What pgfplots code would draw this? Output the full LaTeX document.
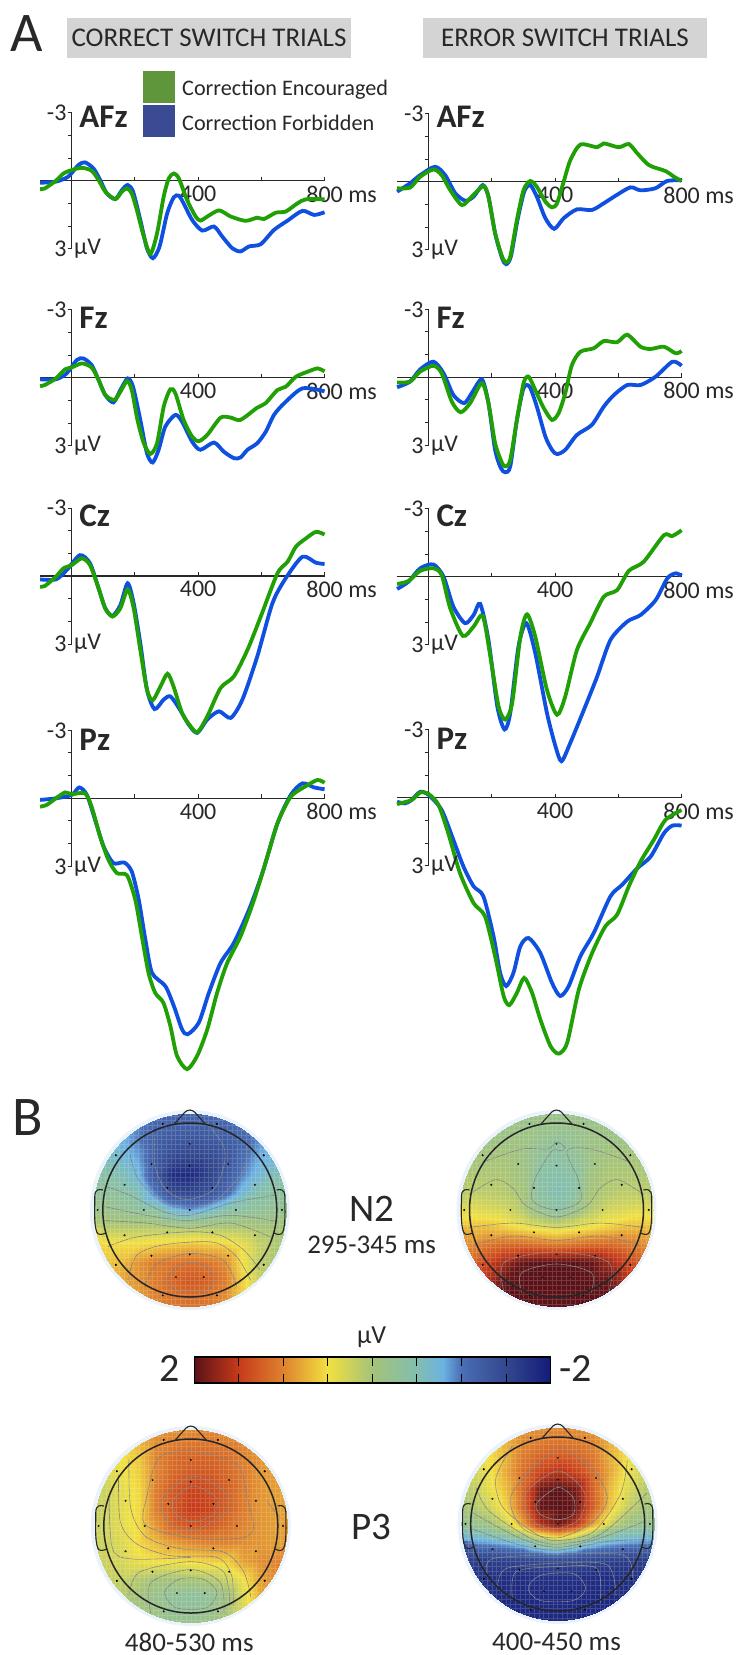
\documentclass[border=0pt]{standalone}
\usepackage{fontspec}
\setmainfont{Carlito}
\usepackage{pgfplots}
\usepackage{pgfplotstable}
\pgfplotsset{compat=1.18}
\definecolor{wblue}{RGB}{15,80,225}
\definecolor{wgreen}{RGB}{32,160,5}
\definecolor{ink}{RGB}{40,40,40}
\definecolor{halo}{RGB}{234,243,252}
\newcommand\fs[1]{\fontsize{#1}{#1}\selectfont}
\pgfplotsset{colormap={eeg}{
rgb255(0cm)=(20,28,120) rgb255(12.5cm)=(51,72,143) rgb255(25cm)=(74,110,180) rgb255(30cm)=(108,178,226)
rgb255(37.5cm)=(130,190,175) rgb255(50cm)=(165,195,120) rgb255(62.5cm)=(242,224,64) rgb255(75cm)=(222,130,46)
rgb255(87.5cm)=(198,58,26) rgb255(100cm)=(90,18,24)}}
% ---- waveforms: ms, microvolt (negative up)
\pgfplotstableread{
ms uv
-100 .09
-50 .04
-11 -.18
21 -.69
42 -.81
69 -.54
90 -.03
111 .56
138 .81
159 .41
177 .19
194 .48
217 1.73
238 2.98
257 3.42
278 2.90
302 1.44
323 .73
339 .66
354 1.00
381 1.73
413 2.20
450 2.02
476 2.46
508 2.98
534 3.12
561 2.90
598 2.80
640 2.17
683 1.76
730 1.33
767 1.51
800 1.39
}\AFzLb
\pgfplotstableread{
ms uv
-100 .37
-85 .34
-50 0
-26 -.32
0 -.47
32 -.57
63 -.44
85 -.03
106 .48
138 .81
159 .48
175 .34
190 .56
206 1.29
228 2.46
249 3.23
270 2.32
291 .70
307 -.10
323 -.32
339 -.10
365 .85
392 1.58
407 1.76
429 1.58
466 1.31
503 1.58
550 1.77
587 1.63
608 1.69
646 1.41
677 1.36
714 1.00
741 .82
800 .82
}\AFzLg
\pgfplotstableread{
ms uv
-100 .44
-59 .07
-27 -.29
20 -.66
52 -.29
84 .51
116 .84
142 .66
171 .15
189 .66
210 2.27
232 3.37
245 3.64
260 3.30
281 1.69
302 .44
321 .15
342 .66
369 1.61
397 2.08
427 1.61
469 1.22
516 1.25
554 .95
591 .62
638 .25
670 .38
717 .29
754 -.03
800 -.07
}\AFzRb
\pgfplotstableread{
ms uv
-100 .29
-59 .26
-27 -.22
15 -.54
41 -.29
68 .37
105 1.03
136 .66
173 .19
189 .66
210 2.27
232 3.30
245 3.56
258 3.30
279 1.69
300 .37
321 -.03
342 .22
369 .88
390 1.13
406 .95
427 0
448 -.95
480 -1.64
533 -1.52
554 -1.69
601 -1.52
633 -1.66
660 -1.25
697 -.73
749 -.47
776 -.22
800 -.03
}\AFzRg
\pgfplotstableread{
ms uv
-100 .07
-50 .07
-16 -.19
16 -.78
37 -.85
63 -.56
85 .10
106 .76
132 1.09
154 .54
177 .03
194 .40
217 1.86
238 3.33
256 3.74
275 3.18
296 2.16
328 1.64
349 1.94
381 2.82
407 3.18
450 2.86
481 3.26
513 3.55
534 3.52
556 3.18
587 2.89
614 2.38
640 1.64
672 1.13
730 .47
800 .60
}\FzLb
\pgfplotstableread{
ms uv
-100 .37
-85 .32
-50 .03
-21 -.37
0 -.45
32 -.63
63 -.45
85 .10
106 .76
135 .98
154 .62
175 .15
190 .54
208 1.86
228 2.89
249 3.36
270 2.89
291 1.28
312 .51
328 .69
354 1.86
381 2.60
402 2.80
429 2.52
471 1.76
503 1.76
534 1.86
587 1.32
613 1.13
651 .54
677 .40
709 -.04
751 -.29
778 -.41
800 -.28
}\FzLg
\pgfplotstableread{
ms uv
-100 .44
-59 .19
-27 -.35
15 -.69
47 -.18
78 .78
112 1.14
136 .70
168 .09
189 1.14
210 3.20
228 4.00
242 4.19
258 3.93
279 1.88
300 .48
319 .41
342 1.29
369 2.61
390 3.20
406 3.39
432 3.20
469 2.54
516 2.10
554 1.29
586 .78
628 .34
670 .34
718 -.03
771 -.69
800 -.51
}\FzRb
\pgfplotstableread{
ms uv
-100 .23
-59 .19
-27 -.25
15 -.51
41 -.18
73 1.07
101 1.54
131 1.14
168 .26
189 1.14
210 2.90
232 3.78
244 3.93
258 3.64
279 1.88
300 .26
316 -.03
337 .56
364 1.36
390 1.88
411 1.58
432 .70
453 -.54
480 -1.13
522 -1.28
554 -1.60
596 -1.55
628 -1.88
670 -1.35
702 -1.25
744 -1.35
781 -1.06
800 -1.16
}\FzRg
\pgfplotstableread{
ms uv
-100 .15
-50 .15
-16 -.26
26 -.92
58 -.56
85 .54
106 1.42
129 1.76
154 1.28
177 .32
196 1.20
217 2.96
238 5.01
262 5.87
291 5.45
312 5.31
339 5.82
370 6.55
397 6.92
429 6.33
466 5.97
503 6.26
540 5.45
587 3.55
635 1.20
677 .10
730 -.85
772 -.59
800 -.53
}\CzLb
\pgfplotstableread{
ms uv
-100 .47
-85 .44
-50 .03
-26 -.34
0 -.48
32 -.78
58 -.48
85 .54
106 1.42
129 1.79
154 1.42
177 .59
196 1.42
217 3.26
238 5.01
256 5.48
281 4.87
303 4.31
322 4.87
349 6.04
376 6.63
398 6.89
429 6.19
471 4.94
513 4.43
556 3.26
598 1.79
651 -.12
683 -.63
709 -1.29
741 -1.66
773 -1.95
800 -1.83
}\CzLg
\pgfplotstableread{
ms uv
-100 .54
-64 .22
-27 -.37
15 -.54
47 0
78 1.32
115 2.05
142 1.69
163 1.20
189 2.79
217 5.72
240 6.74
258 6.01
284 3.08
309 2.05
337 3.37
374 6.01
401 7.48
420 8.14
448 7.33
491 5.87
533 4.40
575 2.79
628 1.98
670 1.69
718 1.03
755 .07
781 -.15
800 -.04
}\CzRb
\pgfplotstableread{
ms uv
-100 .32
-64 .19
-27 -.26
15 -.37
41 -.07
68 1.39
108 2.61
142 2.20
171 1.73
195 3.52
221 5.72
242 6.30
264 5.57
290 2.64
311 1.66
337 2.64
374 4.99
406 6.09
432 5.28
469 3.23
511 2.05
554 .88
596 .59
633 -.26
680 -.66
744 -1.83
770 -1.79
800 -2.05
}\CzRg
\pgfplotstableread{
ms uv
-100 .07
-50 0
0 -.15
24 -.48
48 -.15
74 .95
101 2.13
132 2.86
166 2.83
190 3.23
212 4.47
233 6.23
254 7.70
296 8.28
323 9.16
349 10.19
367 10.41
402 9.90
434 8.58
471 7.26
513 6.38
561 4.91
603 3.30
651 1.10
693 -.15
730 -.66
767 -.48
800 -.40
}\PzLb
\pgfplotstableread{
ms uv
-100 .37
-79 .29
-50 0
-21 -.26
0 -.18
42 -.22
63 .37
90 1.69
116 2.71
143 3.30
175 3.40
201 4.47
222 6.09
243 7.70
264 8.58
290 9.02
312 10.04
333 11.36
365 11.95
397 11.36
429 10.19
460 8.58
492 7.26
534 6.09
577 4.47
619 2.57
651 1.10
693 -.07
747 -.59
778 -.81
800 -.69
}\PzLg
\pgfplotstableread{
ms uv
-100 .18
-75 .25
-54 .10
-27 -.26
0 -.12
41 .54
78 1.86
110 3.04
142 3.91
173 4.35
205 6.11
226 7.73
245 8.31
268 7.73
290 6.55
316 6.19
353 6.85
390 8.17
416 8.75
443 8.31
480 6.99
522 5.97
575 4.35
612 3.84
660 3.11
702 2.60
744 1.57
771 1.23
800 1.23
}\PzRb
\pgfplotstableread{
ms uv
-100 .28
-54 .10
-27 -.23
0 -.16
31 .32
62 1.57
99 3.33
142 4.65
178 5.23
210 6.99
237 8.75
255 9.15
279 8.61
302 7.95
327 8.61
353 9.78
385 10.95
411 11.29
438 10.81
475 8.46
517 6.85
559 5.67
596 5.16
633 3.91
670 2.82
712 1.86
749 .98
800 .54
}\PzRg
% ---- scalp maps: 13 x 13 grid, rows from y=1.2 down to y=-1.2, columns x=-1.2 ... 1.2
\newcommand\mkgrid[1]{%
\pgfplotstablecreatecol[expr={-1.2+0.2*mod(\pgfplotstablerow,13)}]{xx}#1%
\pgfplotstablecreatecol[expr={1.2-0.2*floor(\pgfplotstablerow/13)}]{yy}#1}
\pgfplotstableread[row sep=\\]{z\\
-.9\\-.9\\-.9\\-.95\\-1\\-1.1\\-1.1\\-1.1\\-1\\-.95\\-.9\\-.9\\-.9\\
-.85\\-.85\\-.85\\-.95\\-1.1\\-1.15\\-1.15\\-1.15\\-1.1\\-1\\-.9\\-.85\\-.85\\
-.7\\-.7\\-.75\\-.95\\-1.2\\-1.3\\-1.35\\-1.3\\-1.25\\-1.1\\-.9\\-.8\\-.8\\
-.55\\-.55\\-.7\\-.85\\-1.25\\-1.5\\-1.55\\-1.5\\-1.35\\-1.05\\-.8\\-.7\\-.7\\
-.4\\-.4\\-.5\\-.75\\-1.3\\-1.8\\-1.85\\-1.6\\-1.3\\-.95\\-.7\\-.5\\-.45\\
-.3\\-.3\\-.35\\-.5\\-.95\\-1.45\\-1.5\\-1.4\\-1.1\\-.7\\-.45\\-.35\\-.3\\
-.1\\-.15\\-.2\\-.3\\-.35\\-.7\\-.85\\-.7\\-.45\\-.35\\-.3\\-.25\\-.2\\
.15\\.1\\.1\\.1\\.1\\.05\\.05\\.05\\.05\\.05\\0\\0\\0\\
.6\\.55\\.55\\.55\\.6\\.65\\.7\\.65\\.6\\.45\\.2\\.05\\0\\
.7\\.65\\.7\\.9\\1.05\\1.1\\1.15\\1.1\\.95\\.5\\.15\\0\\0\\
.75\\.75\\.8\\.9\\1.05\\1.2\\1.3\\1.25\\1.05\\.6\\.2\\.1\\.05\\
.75\\.75\\.8\\.85\\1.0\\1.1\\1.15\\1.1\\.95\\.6\\.3\\.2\\.1\\
.8\\.8\\.8\\.85\\1\\1.05\\1.1\\1.05\\.95\\.7\\.4\\.2\\.1\\
}\mapA
\pgfplotstableread[row sep=\\]{z\\
-.15\\-.15\\-.15\\-.15\\-.15\\-.15\\-.15\\-.15\\-.15\\-.15\\-.15\\-.15\\-.15\\
-.15\\-.15\\-.15\\-.15\\-.15\\-.15\\-.15\\-.15\\-.15\\-.15\\-.15\\-.15\\-.15\\
-.1\\-.1\\-.1\\-.1\\-.1\\-.2\\-.3\\-.2\\-.1\\-.1\\-.1\\-.1\\-.1\\
-.05\\0\\0\\0\\-.1\\-.3\\-.4\\-.3\\-.1\\0\\0\\0\\-.05\\
.05\\.05\\.05\\.05\\-.05\\-.4\\-.45\\-.4\\-.05\\.05\\.05\\.05\\.05\\
.1\\.15\\.15\\.1\\0\\-.4\\-.5\\-.4\\0\\.1\\.15\\.15\\.1\\
.35\\.4\\.35\\.3\\.1\\-.2\\-.4\\-.2\\.1\\.3\\.35\\.4\\.35\\
.6\\.7\\.7\\.6\\.5\\.4\\.3\\.4\\.5\\.6\\.7\\.7\\.6\\
.85\\.95\\1.1\\1.2\\1.2\\1.15\\1.1\\1.15\\1.2\\1.2\\1.1\\.95\\.85\\
1.1\\1.2\\1.45\\1.7\\1.95\\2\\2\\2\\1.95\\1.7\\1.45\\1.2\\1.1\\
1.2\\1.35\\1.6\\1.95\\2\\2\\2\\2\\2\\1.95\\1.6\\1.35\\1.2\\
1.5\\1.6\\1.8\\2\\2\\2\\2\\2\\2\\2\\1.8\\1.6\\1.5\\
1.8\\1.8\\1.9\\2\\2\\2\\2\\2\\2\\2\\1.9\\1.8\\1.8\\
}\mapB
\pgfplotstableread[row sep=\\]{z\\
.6\\.6\\.7\\.8\\.8\\.85\\.85\\.9\\.9\\.85\\.8\\.7\\.7\\
.4\\.45\\.5\\.75\\.95\\1.0\\1.05\\1.05\\1.0\\.95\\.85\\.8\\.75\\
.3\\.35\\.5\\.65\\1.0\\1.15\\1.2\\1.2\\1.15\\1.0\\.9\\.85\\.8\\
.25\\.3\\.45\\.6\\1.0\\1.2\\1.3\\1.3\\1.2\\1.05\\.9\\.85\\.8\\
.2\\.25\\.4\\.55\\1.05\\1.3\\1.45\\1.4\\1.25\\1.05\\.9\\.85\\.8\\
.2\\.25\\.4\\.55\\1.05\\1.3\\1.5\\1.45\\1.25\\1.05\\.9\\.85\\.8\\
.2\\.25\\.4\\.55\\.9\\1.2\\1.3\\1.3\\1.15\\1.0\\.9\\.85\\.85\\
.2\\.25\\.35\\.55\\.7\\.85\\.95\\1.0\\1.0\\.95\\.9\\.85\\.85\\
.25\\.25\\.3\\.45\\.5\\.5\\.55\\.6\\.6\\.85\\.95\\1.0\\1.0\\
.2\\.2\\.2\\.1\\0\\0\\.05\\.1\\.25\\.5\\.85\\1.0\\1.0\\
.15\\.15\\.1\\-.05\\-.2\\-.3\\-.35\\-.3\\-.1\\.35\\.8\\.95\\.95\\
.1\\.1\\.1\\0\\-.1\\-.25\\-.25\\-.2\\0\\.35\\.7\\.8\\.8\\
.1\\.1\\.1\\0\\-.05\\-.1\\-.1\\-.1\\.05\\.3\\.6\\.7\\.7\\
}\mapC
\pgfplotstableread[row sep=\\]{z\\
.6\\.6\\.7\\.8\\.85\\.9\\.9\\.9\\.85\\.8\\.7\\.6\\.6\\
.5\\.5\\.6\\.75\\.95\\1\\1.05\\1\\.95\\.75\\.6\\.5\\.5\\
.3\\.35\\.5\\.75\\1.05\\1.2\\1.25\\1.2\\1.05\\.75\\.5\\.35\\.3\\
.2\\.25\\.45\\.8\\1.15\\1.45\\1.6\\1.45\\1.15\\.8\\.45\\.25\\.2\\
.1\\.15\\.4\\.7\\1.2\\1.9\\2\\1.9\\1.2\\.7\\.35\\.1\\.05\\
0\\.05\\.25\\.6\\1.2\\1.95\\2\\1.95\\1.25\\.65\\.2\\0\\0\\
-.2\\-.2\\-.1\\.25\\.85\\1.6\\1.9\\1.6\\.85\\.25\\-.1\\-.2\\-.2\\
-.85\\-.85\\-.8\\-.7\\-.55\\-.15\\.1\\-.15\\-.55\\-.7\\-.8\\-.85\\-.85\\
-1.6\\-1.6\\-1.6\\-1.55\\-1.5\\-1.45\\-1.4\\-1.45\\-1.5\\-1.55\\-1.6\\-1.6\\-1.6\\
-1.7\\-1.75\\-1.75\\-1.8\\-1.8\\-1.75\\-1.75\\-1.75\\-1.8\\-1.8\\-1.75\\-1.75\\-1.7\\
-1.75\\-1.8\\-1.8\\-1.85\\-1.85\\-1.85\\-1.85\\-1.85\\-1.85\\-1.85\\-1.8\\-1.8\\-1.75\\
-1.8\\-1.85\\-1.85\\-1.85\\-1.85\\-1.85\\-1.85\\-1.85\\-1.85\\-1.85\\-1.85\\-1.85\\-1.8\\
-1.85\\-1.85\\-1.85\\-1.85\\-1.85\\-1.85\\-1.85\\-1.85\\-1.85\\-1.85\\-1.85\\-1.85\\-1.85\\
}\mapD
\mkgrid\mapA
\mkgrid\mapB
\mkgrid\mapC
\mkgrid\mapD
\pgfplotsset{ctr/.style={draw=black!50,line width=.55pt,smooth,no markers}}
% #1 axis x, #2 zero y, #3 name, #4 name offset below the -3 tick (px), #5 blue, #6 green
\newcommand\wave[6]{%
\begin{axis}[at={(#1pt-31.6pt,-#2pt-68pt)},anchor=south west,scale only axis,
  width=284.5pt,height=136pt,xmin=-100,xmax=800,ymin=-3,ymax=3,y dir=reverse,
  axis lines=middle,axis line style={-,draw=ink,line width=1.1pt},clip=false,
  xtick={200,400,600,800},xticklabels={,400,,800\rlap{ ms}},
  ytick={-3,-2,-1,1,2,3},yticklabels={-3,,,,,3},
  tick style={draw=ink,line width=1pt},major tick length=4pt,tick align=outside,
  tick label style={font=\fs{24},text=ink,inner sep=0pt},
  x tick label style={yshift=-1pt},y tick label style={xshift=-1pt}]
\addplot[wblue,line width=3.8pt,smooth,tension=.45,no markers] table[x=ms,y=uv]{#5};
\addplot[wgreen,line width=3.8pt,smooth,tension=.45,no markers] table[x=ms,y=uv]{#6};
\node[anchor=west,inner sep=0pt,text=ink,font=\fs{33}\bfseries] at (axis cs:24,{-3+#4/22.67}) {#3};
\node[anchor=west,inner sep=0pt,text=ink,font=\fs{24}] at (axis cs:7,3) {µV};
\end{axis}}
% #1 cx, #2 cy, #3 table, #4 contours
\newcommand\scalp[4]{%
\fill[halo] (#1pt,-#2pt) circle (100pt);
\begin{scope}
\clip (#1pt,-#2pt) circle (96.5pt);
\begin{axis}[at={(#1pt-104.4pt,-#2pt-104.4pt)},anchor=south west,scale only axis,
  width=208.8pt,height=208.8pt,xmin=-1.2,xmax=1.2,ymin=-1.2,ymax=1.2,hide axis,
  colormap name=eeg,point meta min=-2,point meta max=2,clip=false]
\addplot[surf,shader=interp,mesh/cols=13,point meta=explicit] table[x=xx,y=yy,meta=z]{#3};
#4
\addplot[only marks,mark=*,mark size=.8pt,black] coordinates {
(-.312,.99)(.312,.99)(0,.76)(-.85,.63)(.85,.63)(-.44,.53)(.44,.53)(0,.51)(-.75,.29)(.75,.29)
(-.26,.255)(.26,.255)(0,0)(-.53,0)(.53,0)(-1.06,0)(1.06,0)(-.75,-.29)(.75,-.29)(-.26,-.257)(.26,-.257)
(-.44,-.525)(.44,-.525)(0,-.51)(-.85,-.63)(.85,-.63)(-.16,-.77)(.16,-.77)(-.312,-.98)(.312,-.98)};
\end{axis}
\draw[white,opacity=.16,line width=.5pt,shift={(#1pt,-#2pt)},step=4.7pt] (-98pt,-98pt) grid (98pt,98pt);
\end{scope}
\begin{scope}[shift={(#1pt,-#2pt)},draw=black!85!white]
\draw[line width=1.5pt] (0,0) circle (87pt);
\draw[line width=1.1pt,rounded corners=3pt] (-15.5pt,86pt) -- (-3pt,100pt) -- (3pt,100pt) -- (15.5pt,86pt);
\draw[line width=1.1pt] (-87pt,20pt) .. controls (-90pt,21pt) and (-95pt,21pt) .. (-95pt,14pt) .. controls (-95pt,0pt) and (-96pt,-14pt) .. (-93pt,-22pt) .. controls (-92pt,-25pt) and (-88pt,-25pt) .. (-84pt,-23pt);
\draw[line width=1.1pt] (87pt,20pt) .. controls (90pt,21pt) and (95pt,21pt) .. (95pt,14pt) .. controls (95pt,0pt) and (96pt,-14pt) .. (93pt,-22pt) .. controls (92pt,-25pt) and (88pt,-25pt) .. (84pt,-23pt);
\end{scope}}
\begin{document}
\begin{tikzpicture}
\useasboundingbox (0pt,0pt) rectangle (739pt,-1655pt);
\tikzset{lab/.style={inner sep=0pt,text=ink}}
\node[lab,font=\fs{56}] at (27pt,-34pt) {A};
\node[lab,font=\fs{56}] at (28pt,-1118pt) {B};
\fill[black!17] (67pt,-18pt) rectangle (351pt,-58pt);
\fill[black!17] (423pt,-18pt) rectangle (707pt,-58pt);
\node[lab,font=\fs{27}] at (209pt,-38pt) {CORRECT SWITCH TRIALS};
\node[lab,font=\fs{27}] at (565pt,-38pt) {ERROR SWITCH TRIALS};
\fill[fill={rgb,255:red,95;green,150;blue,60}] (143pt,-71pt) rectangle (175pt,-103pt);
\fill[fill={rgb,255:red,58;green,75;blue,148}] (143pt,-105pt) rectangle (175pt,-137pt);
\node[lab,anchor=west,font=\fs{22.2}] at (182pt,-90pt) {Correction Encouraged};
\node[lab,anchor=west,font=\fs{22.2}] at (182pt,-123pt) {Correction Forbidden};
\wave{71.7}{180.7}{AFz}{4}{\AFzLb}{\AFzLg}
\wave{428.7}{181.7}{AFz}{3}{\AFzRb}{\AFzRg}
\wave{71.7}{377.7}{Fz}{8}{\FzLb}{\FzLg}
\wave{428.7}{377.3}{Fz}{8}{\FzRb}{\FzRg}
\wave{71.7}{576}{Cz}{8}{\CzLb}{\CzLg}
\wave{428.7}{576.7}{Cz}{7}{\CzRb}{\CzRg}
\wave{71.7}{798.3}{Pz}{9}{\PzLb}{\PzLg}
\wave{428.7}{797.7}{Pz}{9}{\PzRb}{\PzRg}
\scalp{189.8}{1210}{\mapA}{
\addplot[ctr] coordinates {(-.4,.88)(-.4,.5)(-.27,.23)(-.03,.12)(.27,.23)(.39,.5)(.39,.73)(.2,1)};
\addplot[ctr] coordinates {(-.69,.65)(-.59,.35)(-.3,.08)(0,.02)(.31,.12)(.62,.46)(.66,.77)};
\addplot[ctr] coordinates {(-.96,.27)(-.69,.17)(-.3,-.02)(0,-.06)(.47,.08)(.85,.15)(1,.17)};
\addplot[ctr] coordinates {(-.98,.04)(-.5,-.06)(-.03,-.12)(.47,-.06)(1,-.13)};
\addplot[ctr] coordinates {(-1,-.12)(-.5,-.15)(0,-.21)(.47,-.15)(.93,-.31)};
\addplot[ctr] coordinates {(-.94,-.42)(-.61,-.31)(0,-.25)(.35,-.29)(.62,-.46)(.81,-.69)};
\addplot[ctr] coordinates {(-.71,-.81)(-.61,-.52)(-.3,-.4)(.27,-.37)(.54,-.54)(.7,-.81)};
\addplot[ctr] coordinates {(-.52,-.88)(-.38,-.62)(0,-.5)(.39,-.58)(.54,-.88)};
\addplot[ctr,smooth cycle] coordinates {(-.27,-.81)(-.11,-.63)(.16,-.63)(.27,-.77)(.2,-.92)(-.15,-.92)};
}
\scalp{556.5}{1210}{\mapB}{
\addplot[ctr] coordinates {(-.85,.55)(-.4,.7)(-.1,.7)(0,.78)(.1,.72)(.05,.68)(-.05,.68)(-.25,.35)(-.27,.1)(0,0)(.27,.1)(.25,.35)(.12,.68)(.4,.7)(.85,.55)};
\addplot[ctr] coordinates {(-1,.18)(-.7,.35)(-.5,.25)(-.35,.05)(0,-.08)(.35,.05)(.5,.25)(.7,.35)(1,.18)};
\addplot[ctr] coordinates {(-1,-.2)(-.5,-.15)(0,-.2)(.5,-.15)(1,-.2)};
\addplot[ctr] coordinates {(-.95,-.4)(-.5,-.3)(0,-.35)(.5,-.3)(.95,-.4)};
\addplot[ctr] coordinates {(-.6,-.95)(-.6,-.6)(0,-.48)(.6,-.6)(.6,-.95)};
\addplot[ctr] coordinates {(-.4,-.95)(-.4,-.72)(0,-.62)(.4,-.72)(.4,-.95)};
}
\scalp{190.8}{1526}{\mapC}{
\addplot[ctr,smooth cycle] coordinates {(-.2,.3)(.03,.46)(.3,.32)(.26,.13)(.03,.05)(-.17,.13)};
\addplot[ctr,smooth cycle] coordinates {(-.32,.32)(.03,.57)(.38,.4)(.41,.17)(.03,-.05)(-.26,.05)};
\addplot[ctr,smooth cycle] coordinates {(-.5,.36)(-.36,.79)(.03,.86)(.53,.71)(.65,.32)(.72,-.03)(.57,-.14)(.03,-.14)(-.52,.01)};
\addplot[ctr] coordinates {(-.71,.77)(-.69,.2)(-.52,-.12)(-.13,-.26)(.38,-.3)(.61,-.53)(.69,-.82)};
\addplot[ctr] coordinates {(-.83,.59)(-.81,.05)(-.63,-.2)(-.24,-.34)(.3,-.36)(.47,-.57)(.49,-.92)};
\addplot[ctr] coordinates {(-.94,.36)(-.9,-.26)(-.67,-.38)(0,-.36)};
\addplot[ctr,smooth cycle] coordinates {(-.3,-.76)(-.13,-.61)(.14,-.61)(.3,-.76)(.18,-.94)(-.17,-.94)};
\addplot[ctr] coordinates {(-.46,-1)(-.46,-.65)(0,-.5)(.34,-.65)(.38,-1)};
\addplot[ctr] coordinates {(-.71,-.8)(-.59,-.53)(0,-.41)(.38,-.53)(.45,-.92)};
\addplot[ctr] coordinates {(.88,.28)(1.03,.09)};
}
\scalp{557.7}{1524}{\mapD}{
\addplot[ctr,smooth cycle] coordinates {(-.24,.24)(0,.42)(.18,.3)(.18,.11)(0,.05)(-.2,.11)};
\addplot[ctr,smooth cycle] coordinates {(-.38,.34)(0,.61)(.3,.38)(.26,.07)(0,-.05)(-.28,.03)};
\addplot[ctr,smooth cycle] coordinates {(-.53,.34)(0,.86)(.41,.61)(.57,.3)(.41,.03)(0,-.16)(-.4,-.05)};
\addplot[ctr] coordinates {(-.52,.9)(-.71,.53)(-.63,.19)(-.24,-.12)(0,-.19)(.41,-.09)(.72,.34)(.8,.73)};
\addplot[ctr] coordinates {(-.94,.42)(-.79,.15)(-.32,-.16)(0,-.23)(.49,-.12)(1.03,.36)};
\addplot[ctr] coordinates {(-.98,.13)(-.44,-.16)(0,-.27)(.49,-.16)(1,.03)};
\addplot[ctr] coordinates {(-1,-.05)(-.44,-.24)(0,-.3)(.57,-.2)(1.02,-.18)};
\addplot[ctr] coordinates {(-.81,-.59)(-.75,-.4)(0,-.35)(.76,-.36)(.86,-.63)};
\addplot[ctr] coordinates {(-.69,-.71)(-.59,-.51)(0,-.45)(.57,-.47)(.67,-.82)};
\addplot[ctr] coordinates {(-.52,-.86)(-.48,-.55)(0,-.49)(.45,-.51)(.49,-.9)};
\addplot[ctr,smooth cycle] coordinates {(-.34,-.74)(-.2,-.59)(.18,-.57)(.32,-.74)(.18,-.88)(-.2,-.88)};
}
\node[lab,font=\fs{39}] at (371.6pt,-1209pt) {N2};
\node[lab,font=\fs{27}] at (371.6pt,-1245pt) {295-345 ms};
\node[lab,font=\fs{26}] at (371.6pt,-1337pt) {µV};
\node[lab,font=\fs{40}] at (170pt,-1369pt) {2};
\node[lab,font=\fs{40}] at (576pt,-1369pt) {-2};
\node[lab,font=\fs{39}] at (371.6pt,-1527pt) {P3};
\node[lab,font=\fs{27}] at (189.3pt,-1642pt) {480-530 ms};
\node[lab,font=\fs{27}] at (556.5pt,-1642pt) {400-450 ms};
\begin{axis}[at={(194.4pt,-1383pt)},anchor=south west,scale only axis,width=356pt,height=26pt,
  xmin=-2,xmax=2,ymin=0,ymax=1,x dir=reverse,colormap name=eeg,point meta min=-2,point meta max=2,
  xtick={-1.5,-1,-.5,0,.5,1,1.5},xticklabels={},ytick=\empty,xtick pos=both,tick align=inside,
  major tick length=9pt,axis on top,axis line style={line width=1.1pt},tick style={black,line width=.8pt}]
\addplot[surf,shader=interp,mesh/cols=2,point meta=x] coordinates {(-2,0)(2,0)(-2,1)(2,1)};
\end{axis}
\end{tikzpicture}
\end{document}
